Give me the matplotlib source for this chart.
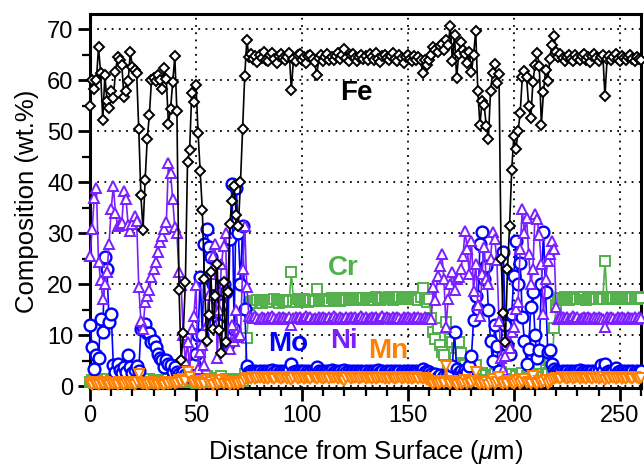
import numpy as np
import matplotlib
matplotlib.use("Agg")
import matplotlib.pyplot as plt

plt.rcParams['font.family'] = ['Liberation Sans', 'DejaVu Sans']
plt.rcParams['mathtext.fontset'] = 'custom'
plt.rcParams['mathtext.rm'] = 'Liberation Sans'
plt.rcParams['mathtext.it'] = 'Liberation Sans:italic'

# ---------------- data (wt.%) sampled every 1 um ----------------
fe = [
    55, 60, 58.4, 60, 66.5, 61.5, 52.3, 61, 56, 54.6,
    58, 56.5, 61.6, 64.6, 64, 63.1, 56.7, 58, 59.8, 65.5,
    62.7, 62, 61.4, 50.4, 37.5, 30.7, 40.5, 48.5, 53.2, 60,
    60.5, 59.9, 61, 60, 58.4, 62.4, 60.2, 51.4, 54.4, 59.6,
    64.7, 53.9, 19, 5.1, 10.5, 20.5, 44, 46.3, 57.6, 55.8,
    59.1, 49.6, 42.2, 34.5, 21, 9, 14, 22.4, 11.3, 17.8,
    24, 11, 6.5, 20.5, 8.7, 18.5, 31.9, 36.3, 39.2, 33.6,
    31.5, 40, 50.5, 60.9, 67.9, 64.6, 65.2, 64.1, 64.8, 63.6,
    65.0, 64.3, 65.5, 64.0, 63.8, 64.9, 65.3, 64.2, 63.5, 64.7,
    65.1, 64.4, 63.9, 64.6, 65.4, 58.1, 64.2, 63.7, 64.9, 65.2,
    64.0, 64.5, 63.4, 64.8, 65.0, 64.1, 63.6, 61.1, 64.3, 64.9,
    63.8, 64.5, 65.2, 64.0, 64.6, 63.9, 64.8, 65.3, 64.2, 65.0,
    66.2, 64.4, 63.7, 64.9, 65.1, 64.3, 63.8, 64.6, 65.0, 64.1,
    64.7, 63.9, 65.2, 64.5, 64.0, 65.4, 64.2, 63.6, 64.8, 65.0,
    64.4, 63.9, 64.7, 65.3, 64.1, 63.8, 64.9, 64.3, 63.5, 64.6,
    65.0, 64.2, 63.7, 64.8, 64.0, 64.5, 63.9, 61.4, 64, 63,
    63.9, 65, 66.6, 66, 65.5, 66.8, 67.2, 66, 68, 67,
    70.6, 63.8, 68.9, 60.4, 65.2, 67.6, 66, 65.2, 63.5, 65.6,
    61.6, 65, 69.6, 58, 51.2, 56, 55.2, 51, 48.6, 58,
    61.4, 63.2, 59.5, 61.2, 25, 14.4, 8.7, 23, 31.5, 42.5,
    49, 46.5, 50, 53.6, 60.6, 61.9, 60.6, 55, 52.6, 59.6,
    63, 65.4, 62.9, 51.3, 57.8, 62, 59.9, 64.2, 66.9, 68.7,
    65.6, 64.5, 65.2, 64.3, 63.8, 64.6, 65.0, 64.2, 63.7, 64.9,
    64.4, 63.9, 64.7, 65.1, 64.0, 64.5, 63.6, 64.8, 65.2, 64.3,
    63.8, 64.6, 65.0, 56.9, 64.1, 64.7, 63.9, 64.5, 65.1, 64.2,
    63.7, 64.8, 64.4, 63.9, 64.6, 65.0, 64.1, 63.8, 64.5, 64.2,
    63.9,
]

cr = [
    0.8, 1.2, 0.6, 1.0, 1.5, 0.7, 1.1, 0.9, 1.4, 0.6,
    1.0, 1.3, 0.8, 1.2, 0.7, 1.0, 1.5, 0.9, 1.1, 0.6,
    1.3, 1.0, 1.6, 2.5, 1.2, 0.8, 1.1, 0.7, 1.4, 0.9,
    1.2, 0.6, 1.0, 1.3, 0.8, 1.1, 0.7, 1.5, 0.9, 1.2,
    0.8, 1.0, 1.8, 2.2, 1.4, 0.9, 1.6, 1.1, 0.8, 1.3,
    0.7, 1.0, 1.4, 0.9, 1.2, 2.0, 1.5, 0.8, 1.1, 1.7,
    0.9, 1.3, 2.1, 1.0, 1.4, 0.8, 1.2, 0.9, 1.5, 1.1,
    0.8, 1.3, 1.0, 2.5, 9.5, 16.0, 16.5, 16.8, 16.3, 16.9,
    16.6, 16.4, 17.0, 16.7, 16.5, 16.9, 16.6, 17.1, 16.7, 16.4,
    16.9, 16.8, 16.5, 17.0, 16.7, 22.4, 16.8, 16.6, 17.1, 16.9,
    16.7, 17.2, 16.8, 16.6, 17.0, 16.9, 16.7, 19.1, 17.0, 16.8,
    17.2, 16.9, 17.1, 16.8, 17.3, 17.0, 16.9, 17.2, 16.8, 17.1,
    17.4, 17.0, 16.9, 17.3, 17.1, 16.9, 17.2, 17.4, 17.0, 17.3,
    17.1, 16.9, 17.4, 17.2, 17.0, 17.5, 17.2, 17.0, 17.4, 17.3,
    17.1, 17.5, 17.2, 17.0, 17.4, 17.3, 17.6, 17.2, 17.4, 17.1,
    17.5, 17.3, 17.6, 17.2, 17.4, 17.0, 17.5, 19.3, 17.0, 16.5,
    17.2, 13.5, 10.7, 9.4, 11.5, 8.1, 6.8, 6.1, 12.6, 4.2,
    9.4, 8.7, 5.5, 7.5, 8.7, 6.6, 4.5, 4.2, 3.0, 2.2,
    3.5, 2.0, 4.2, 2.5, 1.8, 2.6, 1.5, 2.2, 1.2, 2.0,
    1.6, 2.4, 1.3, 1.9, 2.8, 1.5, 2.2, 1.0, 1.8, 2.5,
    1.4, 2.0, 1.2, 1.7, 2.6, 1.5, 2.1, 3.0, 2.4, 1.6,
    3.2, 2.0, 3.8, 2.5, 1.8, 3.2, 2.6, 4.5, 3.0, 11.5,
    15.9, 17.0, 17.4, 17.1, 17.5, 17.2, 17.0, 17.4, 17.3, 17.6,
    17.1, 17.4, 17.2, 17.5, 17.0, 17.3, 17.6, 17.2, 17.4, 17.1,
    17.5, 17.3, 17.2, 24.5, 17.4, 17.1, 17.5, 17.3, 17.6, 17.2,
    17.4, 17.1, 17.5, 17.3, 17.6, 17.2, 17.4, 17.5, 17.2, 17.6,
    17.3,
]

mo = [
    12.0, 7.8, 3.5, 6.1, 5.5, 13.3, 10.7, 25.3, 23.0, 12.6,
    14.3, 4.2, 2.9, 4.5, 3.2, 2.6, 3.8, 2.9, 6.1, 3.8,
    2.7, 3.2, 4.0, 3.0, 11.3, 11.7, 12.3, 10.4, 10.4, 8.7,
    9.0, 7.8, 6.4, 5.5, 5.1, 3.8, 5.1, 4.5, 4.2, 2.9,
    3.8, 2.9, 2.4, 2.1, 2.8, 2.3, 2.0, 2.6, 3.2, 4.5,
    6.4, 10.0, 21.4, 10.0, 27.9, 30.9, 27.3, 25.3, 20.1, 12.5,
    17.2, 12.0, 15.9, 20.1, 18.5, 8.4, 28.9, 39.6, 11.3, 39.0,
    30.0, 20.0, 31.5, 15.2, 4.0, 2.8, 3.0, 2.8, 3.1, 2.9,
    3.0, 2.7, 3.1, 2.9, 3.0, 2.8, 3.2, 2.9, 3.0, 2.7,
    3.1, 2.9, 3.0, 2.8, 3.2, 4.5, 2.9, 3.0, 2.8, 3.1,
    2.9, 3.0, 2.7, 3.1, 2.9, 3.0, 2.8, 3.8, 3.0, 2.9,
    3.1, 2.8, 3.0, 2.9, 3.2, 2.8, 3.0, 2.9, 3.1, 2.7,
    3.3, 2.9, 3.0, 2.8, 3.1, 2.9, 3.0, 2.8, 3.1, 2.9,
    3.0, 2.7, 3.1, 2.9, 3.0, 2.8, 3.2, 2.9, 3.0, 2.8,
    3.1, 2.9, 3.0, 2.7, 3.1, 2.9, 3.0, 2.8, 3.1, 2.9,
    3.0, 2.8, 3.1, 2.9, 3.0, 2.8, 3.1, 3.5, 2.9, 3.0,
    2.8, 2.5, 2.0, 2.4, 1.8, 2.2, 1.5, 2.0, 1.6, 2.5,
    3.0, 4.0, 10.7, 3.5, 2.6, 3.0, 2.4, 3.2, 2.8, 4.0,
    6.0, 13.0, 17.8, 15.2, 27.9, 30.2, 21.1, 23.7, 15.0, 9.0,
    5.0, 12.0, 8.0, 3.0, 1.5, 26.3, 12.0, 8.1, 6.4, 14.3,
    21.7, 28.6, 20.0, 24.3, 13.6, 9.0, 4.5, 7.4, 15.6, 18.5,
    10.0, 5.5, 7.1, 20.0, 30.2, 18.5, 6.8, 7.1, 4.5, 3.5,
    3.0, 3.0, 2.8, 3.1, 2.9, 3.0, 2.7, 3.1, 2.9, 3.0,
    2.8, 3.2, 2.9, 3.0, 2.8, 3.1, 2.9, 3.0, 2.7, 3.1,
    3.0, 4.2, 3.0, 4.5, 2.9, 3.0, 2.8, 3.1, 3.6, 2.9,
    3.0, 2.8, 3.1, 2.9, 3.0, 2.8, 3.1, 2.9, 3.0, 2.8,
    3.0,
]

ni = [
    25.6, 30.9, 37.0, 39.0, 24.4, 20.8, 17.2, 20.0, 22.4, 28.0,
    34.8, 39.3, 34.1, 31.5, 31.8, 32.0, 38.3, 36.7, 31.6, 30.5,
    31.9, 33.5, 32.5, 19.5, 12.9, 11.3, 16.5, 17.8, 19.0, 21.4,
    23.0, 24.4, 26.3, 28.3, 29.5, 30.9, 32.2, 43.9, 41.9, 36.7,
    31.2, 30.0, 22.4, 19.8, 10.0, 5.0, 8.7, 3.0, 11.3, 13.9,
    19.8, 3.5, 6.8, 8.1, 4.2, 12.0, 18.0, 22.0, 25.5, 28.0,
    5.5, 15.0, 24.0, 27.5, 30.0, 7.4, 7.4, 12.0, 9.0, 15.0,
    9.7, 10.0, 23.0, 31.5, 19.5, 13.8, 13.6, 13.4, 13.8, 13.5,
    13.3, 13.7, 13.5, 13.2, 13.6, 13.4, 13.8, 13.5, 13.3, 13.6,
    13.4, 13.7, 13.5, 13.3, 13.6, 12.0, 13.5, 13.7, 13.4, 13.6,
    13.3, 13.5, 13.8, 13.4, 13.6, 13.3, 13.5, 13.2, 13.6, 13.4,
    13.7, 13.5, 13.3, 13.6, 13.4, 13.8, 13.5, 13.3, 13.6, 13.4,
    13.2, 13.6, 13.5, 13.7, 13.4, 13.6, 13.3, 13.5, 13.8, 13.4,
    13.6, 13.3, 13.5, 13.7, 13.4, 13.6, 13.3, 13.5, 13.8, 13.4,
    13.6, 13.5, 13.3, 13.7, 13.4, 13.6, 13.5, 13.3, 13.7, 13.4,
    13.6, 13.5, 13.3, 13.6, 13.4, 13.7, 13.5, 13.3, 13.6, 13.4,
    13.5, 13.3, 19.5, 17.0, 21.7, 23.7, 26.0, 21.1, 11.7, 17.2,
    20.0, 22.4, 19.0, 21.0, 21.4, 23.0, 25.6, 30.5, 27.0, 22.0,
    28.6, 18.8, 24.0, 16.0, 13.9, 22.0, 27.3, 21.1, 20.0, 25.0,
    30.2, 28.9, 24.7, 12.9, 5.5, 3.2, 6.0, 9.0, 7.5, 10.7,
    11.7, 15.2, 16.5, 27.0, 34.8, 30.0, 33.1, 26.0, 20.0, 23.0,
    33.8, 32.8, 29.6, 24.0, 14.3, 21.1, 24.5, 26.0, 28.6, 27.0,
    15.6, 13.3, 13.5, 13.7, 13.4, 13.6, 13.3, 13.5, 13.8, 13.4,
    13.6, 13.3, 13.5, 13.7, 13.4, 13.6, 13.5, 13.3, 13.7, 13.4,
    13.6, 13.5, 13.3, 11.7, 13.6, 13.4, 13.7, 13.5, 13.3, 13.6,
    13.4, 13.7, 13.5, 13.3, 13.6, 13.4, 13.5, 13.7, 13.3, 13.6,
    13.4,
]

mn = [
    0.6, 0.3, 0.8, 0.5, 0.2, 0.7, 0.4, 0.9, 0.5, 0.3,
    0.7, 0.4, 0.6, 0.2, 0.8, 0.5, 0.3, 0.6, 0.9, 0.4,
    0.7, 0.3, 0.8, 2.5, 0.6, 0.4, 0.7, 0.3, 0.5, 0.8,
    0.4, 0.6, 0.2, 0.7, 0.5, 0.3, 0.8, 0.4, 0.6, 0.9,
    0.5, 0.7, 1.2, 0.8, 1.5, 1.0, 2.9, 1.8, 0.9, 0.6,
    1.1, 0.7, 0.5, 0.9, 0.4, 1.2, 0.6, 0.8, 0.3, 1.0,
    0.5, 0.7, 1.3, 0.4, 0.8, 0.6, 0.3, 0.9, 0.5, 0.7,
    0.4, 0.8, 0.6, 1.2, 1.6, 1.7, 1.5, 1.8, 1.4, 1.7,
    1.6, 1.9, 1.5, 1.7, 1.4, 1.8, 1.6, 1.5, 1.9, 1.6,
    1.4, 1.7, 1.8, 1.5, 1.6, 1.3, 1.7, 1.9, 1.5, 1.6,
    1.8, 1.4, 1.7, 1.6, 1.5, 1.9, 1.6, 1.4, 1.8, 1.7,
    1.5, 1.6, 1.9, 1.4, 1.7, 1.6, 1.8, 1.5, 1.7, 1.4,
    1.0, 1.6, 1.8, 1.5, 1.7, 1.6, 1.9, 1.4, 1.6, 1.8,
    1.5, 1.7, 1.6, 1.4, 1.8, 1.5, 1.7, 1.9, 1.6, 1.4,
    1.7, 1.5, 1.8, 1.6, 1.4, 1.7, 1.9, 1.5, 1.6, 1.8,
    1.4, 1.7, 1.5, 1.6, 1.8, 1.5, 1.7, 1.4, 1.6, 1.2,
    1.0, 0.8, 0.5, 0.9, 0.4, 0.7, 1.0, 0.6, 4.0, 0.8,
    0.5, 1.1, 0.6, 0.3, 0.9, 0.5, 0.7, 1.2, 0.4, 0.8,
    0.6, 1.0, 2.9, 0.7, 0.4, 0.9, 0.5, 0.8, 0.3, 0.7,
    1.4, 0.5, 0.9, 1.9, 0.6, 0.4, 0.8, 0.5, 1.0, 0.6,
    0.4, 0.9, 1.3, 0.5, 0.8, 1.5, 0.6, 0.9, 0.4, 2.0,
    0.7, 0.5, 1.1, 0.6, 0.8, 1.3, 0.5, 0.9, 1.2, 1.4,
    1.6, 1.7, 1.5, 1.8, 1.6, 1.4, 1.7, 1.9, 1.5, 1.6,
    1.8, 1.4, 1.7, 1.6, 1.5, 1.9, 1.6, 1.4, 1.8, 1.7,
    1.5, 1.6, 1.8, 1.3, 1.7, 1.5, 1.9, 1.6, 1.4, 1.7,
    1.8, 1.5, 1.6, 1.4, 1.8, 1.7, 1.5, 1.9, 1.6, 1.4,
    1.7,
]

distance_um = np.arange(0, 261, 1)

labels = ["Fe", "Cr", "Mo", "Ni", "Mn"]
colors = {"Fe": "#000000", "Cr": "#52b04a", "Mo": "#0000ff",
          "Ni": "#7b1fff", "Mn": "#ff7f00"}

# ---------------- figure ----------------
fig = plt.figure(figsize=(6.44, 4.68), dpi=100)
ax = fig.add_axes([0.1398, 0.1709, 0.8555, 0.7991])

def trace(vals, name, marker, ms, z, mew=1.4):
    x = distance_um[:len(vals)]
    ax.plot(x, vals, color=colors[name], lw=1.2, marker=marker, ms=ms,
            mfc='white', mec=colors[name], mew=mew, zorder=z, clip_on=False)

trace(cr, "Cr", 's', 7, 3)
trace(mo, "Mo", 'o', 8.5, 4, mew=1.7)
trace(ni, "Ni", '^', 7, 5)
trace(mn, "Mn", 'v', 6.5, 6)
trace(fe, "Fe", 'D', 5.2, 7)

ax.set_xlim(0, 260)
ax.set_ylim(-0.3, 73)
ax.set_xticks(np.arange(0, 251, 50))
ax.set_yticks(np.arange(0, 71, 10))
ax.set_xticks(np.arange(0, 261, 10), minor=True)
ax.set_yticks(np.arange(0, 73, 5), minor=True)

ax.grid(True, which='major', color='black', linestyle=(0, (1, 3.0)), lw=1.3)
ax.set_axisbelow(True)

for s in ax.spines.values():
    s.set_linewidth(2.2)
ax.tick_params(which='major', direction='out', length=9, width=2.0,
               labelsize=17, pad=3)
ax.tick_params(which='minor', direction='out', length=5.5, width=1.6)
ax.tick_params(top=False, right=False, which='both')

ax.set_xlabel(r'Distance from Surface ($\mu$m)', fontsize=18.5, labelpad=8)
ax.set_ylabel('Composition (wt.%)', fontsize=18.5, labelpad=6)

txt = dict(fontsize=20, fontweight='bold', ha='center', va='center', zorder=10)
ax.text(125.5, 57.5, "Fe", color=colors["Fe"], **txt)
ax.text(119.5, 23.2, "Cr", color=colors["Cr"], **txt)
ax.text(93.5, 8.4, "Mo", color=colors["Mo"], **txt)
ax.text(120.0, 9.0, "Ni", color=colors["Ni"], **txt)
ax.text(140.8, 7.0, "Mn", color=colors["Mn"], **txt)

fig.savefig("out.png", dpi=100)
